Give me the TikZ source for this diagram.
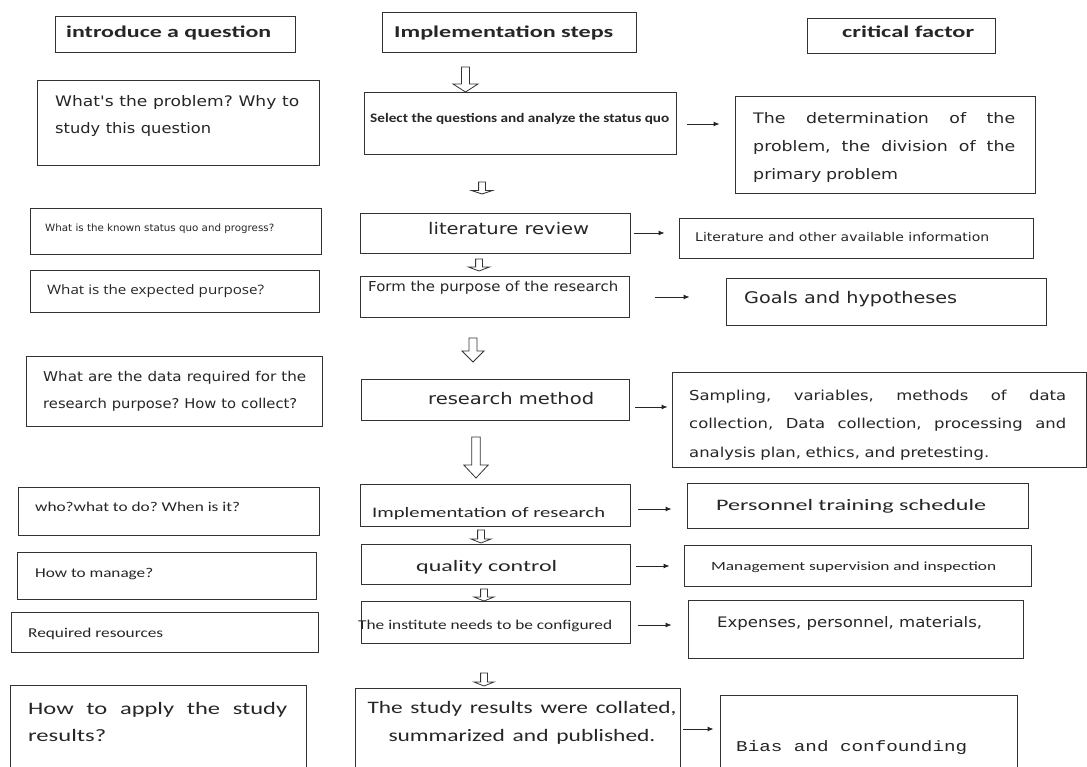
\documentclass[tikz,border=0pt]{standalone}
\usepackage{fontspec}
\setmainfont{DejaVu Sans}
\newfontfamily\dv{DejaVu Sans}
\newfontfamily\dvw[FakeStretch=1.2]{DejaVu Sans}
\newfontfamily\cb{Carlito}
\newfontfamily\cbw[FakeStretch=1.4]{Carlito}
\newfontfamily\os{Open Sans}
\newfontfamily\lm{Liberation Mono}
\usetikzlibrary{arrows.meta}
\AtBeginDocument{\frenchspacing}

\newlength\hsw
\newcommand\hs[2]{\settowidth\hsw{#2}\pgfmathsetmacro\hsf{#1/\hsw}\scalebox{\hsf}[1]{#2}}
\newcommand\fs[2]{\fontsize{#1}{#2}\selectfont}
\newcommand\jl[2]{\leavevmode\hbox to #1pt{#2}}
\newcommand\bx[5]{\node[box, minimum width={#4-#2}, minimum height={#5-#3}] (#1) at ({(#2+#4)/2},{(#3+#5)/2}) {};}
\newcommand\harr[6]{\draw[hol] ({#1-#5},#2) -- ({#1+#5},#2) -- ({#1+#5},#3) -- ({#1+#6},#3) -- (#1,#4) -- ({#1-#6},#3) -- ({#1-#5},#3) -- cycle;}

\tikzset{
  box/.style={draw=black!80, line width=0.9pt, inner sep=0pt, fill=white},
  tx/.style={inner sep=0pt, anchor=base west, text=black!85},
  sarr/.style={-{Latex[length=6pt,width=5pt]}, line width=0.9pt, draw=black!85},
  hol/.style={draw=black!80, line width=0.8pt, fill=white, line join=miter},
}

\begin{document}
\begin{tikzpicture}[x=1pt,y=-1pt]
\fill[white] (0,0) rectangle (1087,767);
\clip (0,0) rectangle (1087,767);

% header boxes
\bx{H1}{55}{16}{295}{52}
\bx{H2}{382}{12}{636}{52}
\bx{H3}{807}{18}{995}{53}
\node[tx, font=\cb\bfseries\fs{16.5}{19}] (h1t) at (66,37.5) {\hs{205}{introduce a question}};
\node[tx, font=\cb\bfseries\fs{16.5}{19}] (h2t) at (394,37.5) {\hs{219}{Implementation steps}};
\node[tx, font=\cb\bfseries\fs{16.5}{19}] (h3t) at (842,37.5) {\hs{132}{critical factor}};

% left column
\bx{L1}{37}{80}{319}{165}
\bx{L2}{30}{208}{321}{254}
\bx{L3}{30}{270}{319}{312}
\bx{L4}{26}{356}{322}{426}
\bx{L5}{18}{487}{319}{535}
\bx{L6}{17}{552}{316}{599}
\bx{L7}{11}{612}{318}{652}
\bx{L8}{10}{685}{306}{780}

\node[tx, font=\dv\fs{14.5}{27.5}, text width=300pt, align=left] (l1t) at (55,106.5)
  {\hs{244}{What's the problem? Why to}\\\hs{156}{study this question}};
\node[tx, font=\dv\fs{10}{12}] (l2t) at (45,232) {\hs{229}{What is the known status quo and progress?}};
\node[tx, font=\os\fs{13}{15}] (l3t) at (47,294.5) {\hs{217}{What is the expected purpose?}};
\node[tx, font=\dv\fs{13.5}{28}, text width=290pt, align=left] (l4t) at (43,381)
  {\hs{263}{What are the data required for the}\\\hs{254}{research purpose? How to collect?}};
\node[tx, font=\cb\fs{13.5}{16}] (l5t) at (35,511.5) {\hs{205}{who?what to do? When is it?}};
\node[tx, font=\cb\fs{13.5}{16}] (l6t) at (35,577) {\hs{118}{How to manage?}};
\node[tx, font=\cb\fs{13.5}{16}] (l7t) at (28,637) {\hs{135}{Required resources}};
\node[tx, font=\cbw\fs{17.5}{27.5}, text width=270pt, align=left] (l8t) at (28,714)
  {\jl{259}{How\hfill to\hfill apply\hfill the\hfill study}\\\hs{78}{results?}};

% middle column
\bx{M1}{364}{92}{676}{154}
\bx{M2}{360}{213}{630}{253}
\bx{M3}{360}{276}{629}{317}
\bx{M4}{361}{379}{629}{420}
\bx{M5}{360}{484}{630}{526}
\bx{M6}{361}{544}{630}{584}
\bx{M7}{361}{601}{630}{643}
\bx{M8}{355}{688}{680}{780}

\node[tx, font=\cb\bfseries\fs{13}{15}] (m1t) at (370,123) {\hs{299}{Select the questions and analyze the status quo}};
\node[tx, font=\dv\fs{16}{19}] (m2t) at (428,235) {\hs{161}{literature review}};
\node[tx, font=\dv\fs{13.7}{16}] (m3t) at (368,291.5) {\hs{250}{Form the purpose of the research}};
\node[tx, font=\dv\fs{16}{19}] (m4t) at (428,404) {\hs{166}{research method}};
\node[tx, font=\cb\fs{14.5}{17}] (m5t) at (372,517) {\hs{233}{Implementation of research}};
\node[tx, font=\cb\fs{16}{19}] (m6t) at (416,571.5) {\hs{141}{quality control}};
\node[tx, font=\cb\fs{13.5}{16}] (m7t) at (358,629) {\hs{254}{The institute needs to be configured}};
\node[inner sep=0pt, anchor=base, text=black!85, font=\cb\fs{17.5}{28}, text width=330pt, align=center] (m8t) at (522,713.5)
  {\hs{309}{The study results were collated,}\\\hs{267}{summarized and published.}};

% right column
\bx{R1}{735}{96}{1035}{193}
\bx{R2}{679}{218}{1033}{258}
\bx{R3}{726}{278}{1046}{325}
\bx{R4}{672}{372}{1086}{467}
\bx{R5}{687}{483}{1028}{528}
\bx{R6}{684}{545}{1031}{586}
\bx{R7}{688}{600}{1023}{658}
\bx{R8}{720}{695}{1017}{780}

\node[tx, font=\dvw\fs{14.5}{28}, text width=270pt, align=left] (r1t) at (753,124)
  {\jl{262}{The\hfill determination\hfill of\hfill the}\\\jl{262}{problem,\hfill the\hfill division\hfill of\hfill the}\\primary problem};
\node[tx, font=\dv\fs{12}{14}] (r2t) at (695,241.5) {\hs{294}{Literature and other available information}};
\node[tx, font=\dv\fs{16}{19}] (r3t) at (744,303.5) {\hs{213}{Goals and hypotheses}};
\node[tx, font=\dvw\fs{13.7}{28.5}, text width=390pt, align=left] (r4t) at (689,400)
  {\jl{377}{Sampling,\hfill variables,\hfill methods\hfill of\hfill data}\\\jl{377}{collection,\hfill Data\hfill collection,\hfill processing\hfill and}\\analysis plan, ethics, and pretesting.};
\node[tx, font=\cb\fs{16}{19}] (r5t) at (716,510) {\hs{270}{Personnel training schedule}};
\node[tx, font=\cb\fs{12.5}{15}] (r6t) at (711,570) {\hs{285}{Management supervision and inspection}};
\node[tx, font=\dv\fs{14.5}{17}] (r7t) at (717,627) {\hs{265}{Expenses, personnel, materials,}};
\node[tx, font=\lm\fs{15}{18}] (r8t) at (736,751.5) {\hs{231}{Bias and confounding}};

% small arrows
\draw[sarr, shorten <=11pt, shorten >=15pt] (M1.east |- 0,124) -- (R1.west |- 0,124);
\draw[sarr, shorten <=4pt, shorten >=14pt] (M2.east |- 0,233) -- (R2.west |- 0,233);
\draw[sarr, shorten <=26pt, shorten >=36pt] (M3.east |- 0,297) -- (R3.west |- 0,297);
\draw[sarr, shorten <=6pt, shorten >=4pt] (M4.east |- 0,407) -- (R4.west |- 0,407);
\draw[sarr, shorten <=8pt, shorten >=15pt] (M5.east |- 0,509) -- (R5.west |- 0,509);
\draw[sarr, shorten <=6pt, shorten >=14pt] (M6.east |- 0,566) -- (R6.west |- 0,566);
\draw[sarr, shorten <=8pt, shorten >=16pt] (M7.east |- 0,625) -- (R7.west |- 0,625);
\draw[sarr, shorten <=3pt, shorten >=6pt] (M8.east |- 0,729) -- (R8.west |- 0,729);

% hollow arrows
\harr{465.5}{67}{84}{92}{4}{12.5}
\harr{482}{182}{190.5}{194}{3.4}{10.5}
\harr{479}{259}{267}{271}{3.4}{10.5}
\harr{473}{338}{351}{362}{4}{11}
\harr{476}{437}{465}{478}{4.2}{12.2}
\harr{481}{530}{539}{543}{3.4}{10}
\harr{484}{589}{597}{601}{3.4}{10}
\harr{484}{673}{682}{686}{3.4}{10}
\end{tikzpicture}
\end{document}
